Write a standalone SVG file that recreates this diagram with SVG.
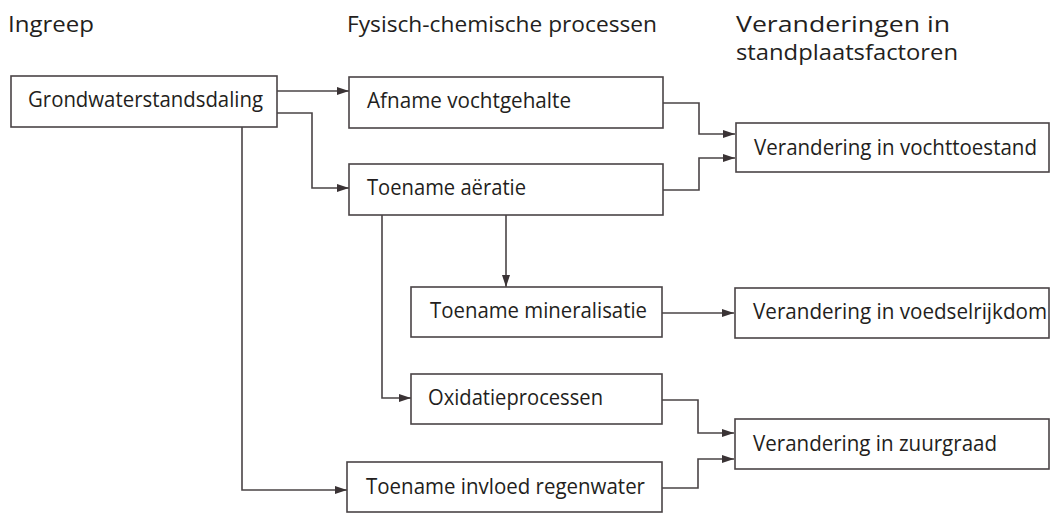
<svg xmlns="http://www.w3.org/2000/svg" width="1051" height="514" viewBox="0 0 1051 514">
<defs>
<marker id="ah" viewBox="0 0 12 8" refX="12" refY="4" markerWidth="12" markerHeight="8" markerUnits="userSpaceOnUse" orient="auto">
<path d="M0,0 L12,4 L0,8 z" fill="#3a3335"/>
</marker>
<style>
.box{fill:#fff;stroke:#4a4446;stroke-width:1.6}
.t{font-family:"Open Sans","DejaVu Sans",sans-serif;font-size:21px;fill:#231e20}
.h{font-family:"Open Sans","DejaVu Sans",sans-serif;font-size:21px;fill:#231e20}
.c{fill:none;stroke:#4a4446;stroke-width:1.6}
</style>
</defs>
<rect width="1051" height="514" fill="#fff"/>
<g id="headers">
<text class="h" x="8" y="32" textLength="86" lengthAdjust="spacingAndGlyphs">Ingreep</text>
<text class="h" x="347" y="32" textLength="310" lengthAdjust="spacingAndGlyphs">Fysisch-chemische processen</text>
<text class="h" x="736" y="32" textLength="214" lengthAdjust="spacingAndGlyphs">Veranderingen in</text>
<text class="h" x="736" y="60" textLength="222" lengthAdjust="spacingAndGlyphs">standplaatsfactoren</text>
</g>
<g id="connectors">
<path class="c" d="M277,91 H349" marker-end="url(#ah)"/>
<path class="c" d="M277,113 H312 V188 H349" marker-end="url(#ah)"/>
<path class="c" d="M242,127 V490 H347" marker-end="url(#ah)"/>
<path class="c" d="M663,103 H699 V134 H735" marker-end="url(#ah)"/>
<path class="c" d="M663,190 H699 V158 H735" marker-end="url(#ah)"/>
<path class="c" d="M506,215 V287" marker-end="url(#ah)"/>
<path class="c" d="M382,215 V398 H411" marker-end="url(#ah)"/>
<path class="c" d="M662,313 H734" marker-end="url(#ah)"/>
<path class="c" d="M662,400 H698 V433 H734" marker-end="url(#ah)"/>
<path class="c" d="M662,488 H698 V459 H734" marker-end="url(#ah)"/>
</g>
<g id="n-grondwater">
<rect class="box" x="11" y="76" width="266" height="51"/>
<text class="t" x="28" y="107" textLength="235" lengthAdjust="spacingAndGlyphs">Grondwaterstandsdaling</text>
</g>
<g id="n-afname">
<rect class="box" x="349" y="77" width="314" height="51"/>
<text class="t" x="367" y="108" textLength="204" lengthAdjust="spacingAndGlyphs">Afname vochtgehalte</text>
</g>
<g id="n-aeratie">
<rect class="box" x="349" y="164" width="314" height="51"/>
<text class="t" x="367" y="195" textLength="159" lengthAdjust="spacingAndGlyphs">Toename aëratie</text>
</g>
<g id="n-mineralisatie">
<rect class="box" x="411" y="287" width="251" height="50"/>
<text class="t" x="430" y="318" textLength="217" lengthAdjust="spacingAndGlyphs">Toename mineralisatie</text>
</g>
<g id="n-oxidatie">
<rect class="box" x="411" y="374" width="251" height="50"/>
<text class="t" x="428" y="405" textLength="175" lengthAdjust="spacingAndGlyphs">Oxidatieprocessen</text>
</g>
<g id="n-regenwater">
<rect class="box" x="347" y="462" width="315" height="50"/>
<text class="t" x="366" y="494" textLength="279" lengthAdjust="spacingAndGlyphs">Toename invloed regenwater</text>
</g>
<g id="n-vocht">
<rect class="box" x="736" y="123" width="313" height="49"/>
<text class="t" x="754" y="155" textLength="283" lengthAdjust="spacingAndGlyphs">Verandering in vochttoestand</text>
</g>
<g id="n-voedsel">
<rect class="box" x="735" y="288" width="314" height="50"/>
<text class="t" x="753" y="319" textLength="294" lengthAdjust="spacingAndGlyphs">Verandering in voedselrijkdom</text>
</g>
<g id="n-zuur">
<rect class="box" x="735" y="419" width="314" height="50"/>
<text class="t" x="753" y="451" textLength="244" lengthAdjust="spacingAndGlyphs">Verandering in zuurgraad</text>
</g>
</svg>
